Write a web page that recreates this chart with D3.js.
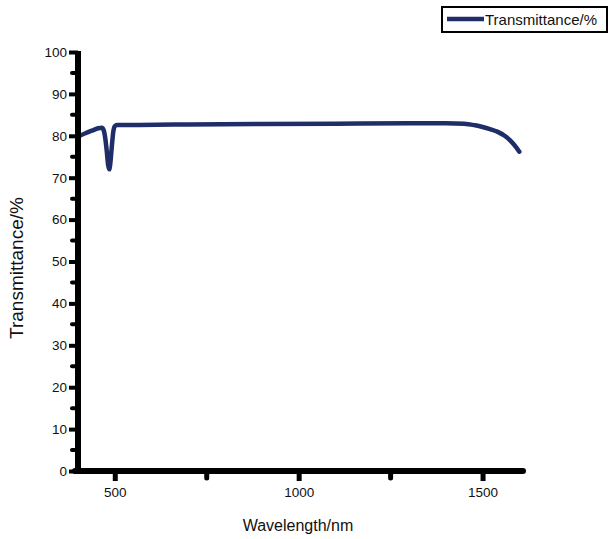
<!DOCTYPE html>
<html>
<head>
<meta charset="utf-8">
<script src="https://cdn.jsdelivr.net/npm/d3@7"></script>
<style>
  body { margin: 0; background: #fff; }
  text { font-family: "Liberation Sans", Arial, sans-serif; fill: #111; }
</style>
</head>
<body>
<div id="chart"></div>
<script>
// Wavelength (nm) and transmittance (%)
const wavelengths = [400, 420, 440, 455, 465, 470, 474, 478, 482, 485, 488, 492, 496, 500, 506, 550,
    700, 900, 1100, 1300, 1400, 1450, 1480, 1500, 1520, 1540, 1560, 1575, 1590, 1600];
const transmittance = [79.8, 80.6, 81.3, 81.8, 81.9, 81.3, 79.5, 76.5, 73.0, 72.0, 73.5, 77.5, 81.0, 82.3, 82.6, 82.6,
    82.7, 82.8, 82.9, 83.0, 83.0, 82.9, 82.5, 82.1, 81.6, 81.0, 80.0, 78.9, 77.4, 76.2];
const xMajorTicks = [500, 1000, 1500];
const xMinorTicks = [750, 1250];
const yMajorTicks = [0, 10, 20, 30, 40, 50, 60, 70, 80, 90, 100];
const yMinorTicks = [5, 15, 25, 35, 45, 55, 65, 75, 85, 95];
const seriesName = "Transmittance/%";

const data = wavelengths.map((w, i) => ({ w: w, t: transmittance[i] }));

const width = 609, height = 539;
const lineColor = "#1f2d68";

const svg = d3.select("#chart")
    .append("svg")
    .attr("width", width)
    .attr("height", height);

// Scales
const x = d3.scaleLinear().domain([400, 1610]).range([78, 523]);
const y = d3.scaleLinear().domain([0, 100]).range([471, 52]);

// Line
const line = d3.line()
    .x(d => x(d.w))
    .y(d => y(d.t))
    .curve(d3.curveMonotoneX);

svg.append("path")
    .datum(data)
    .attr("fill", "none")
    .attr("stroke", lineColor)
    .attr("stroke-width", 4.5)
    .attr("stroke-linecap", "round")
    .attr("stroke-linejoin", "round")
    .attr("d", line);

// Y axis
const yAxis = svg.append("g")
    .attr("transform", "translate(78,0)")
    .call(d3.axisLeft(y).tickValues(yMajorTicks).tickSize(9).tickPadding(2).tickFormat(d3.format("d")));
yAxis.select(".domain").attr("stroke", "#000").attr("stroke-width", 6)
    .attr("d", "M0," + (y(100) - 1) + "V" + (y(0) + 3));
yAxis.selectAll(".tick line").attr("stroke", "#000").attr("stroke-width", 4);
yAxis.selectAll(".tick text").style("font-size", "13.5px").attr("fill", "#111");

svg.append("g")
    .selectAll("line")
    .data(yMinorTicks)
    .enter()
    .append("line")
    .attr("x1", 78).attr("x2", 72)
    .attr("y1", d => y(d)).attr("y2", d => y(d))
    .attr("stroke", "#000")
    .attr("stroke-width", 4)
    .attr("stroke-linecap", "round");

// X axis
const xAxis = svg.append("g")
    .attr("transform", "translate(0,471)")
    .call(d3.axisBottom(x).tickValues(xMajorTicks).tickSize(10).tickPadding(6).tickFormat(d3.format("d")));
xAxis.select(".domain").attr("stroke", "#000").attr("stroke-width", 6)
    .attr("stroke-linecap", "round")
    .attr("d", "M" + (x(400) - 3) + ",0H" + x(1610));
xAxis.selectAll(".tick line").attr("stroke", "#000").attr("stroke-width", 5);
xAxis.selectAll(".tick text").style("font-size", "13.5px").attr("fill", "#111");

svg.append("g")
    .selectAll("line")
    .data(xMinorTicks)
    .enter()
    .append("line")
    .attr("x1", d => x(d)).attr("x2", d => x(d))
    .attr("y1", 471).attr("y2", 478)
    .attr("stroke", "#000")
    .attr("stroke-width", 5)
    .attr("stroke-linecap", "round");

// Labels
svg.append("text")
    .attr("x", 298)
    .attr("y", 531)
    .attr("text-anchor", "middle")
    .style("font-size", "16px")
    .text("Wavelength/nm");

svg.append("text")
    .attr("transform", "rotate(-90)")
    .attr("x", -268)
    .attr("y", 23)
    .attr("text-anchor", "middle")
    .style("font-size", "19px")
    .text("Transmittance/%");

// Legend
const legend = svg.append("g");
legend.append("rect")
    .attr("x", 442).attr("y", 7)
    .attr("width", 165).attr("height", 25)
    .attr("fill", "#fff")
    .attr("stroke", "#000")
    .attr("stroke-width", 2);
legend.append("line")
    .attr("x1", 447).attr("x2", 484)
    .attr("y1", 19).attr("y2", 19)
    .attr("stroke", lineColor)
    .attr("stroke-width", 4.5);
legend.append("text")
    .attr("x", 485)
    .attr("y", 25)
    .style("font-size", "15px")
    .text(seriesName);
</script>
</body>
</html>
